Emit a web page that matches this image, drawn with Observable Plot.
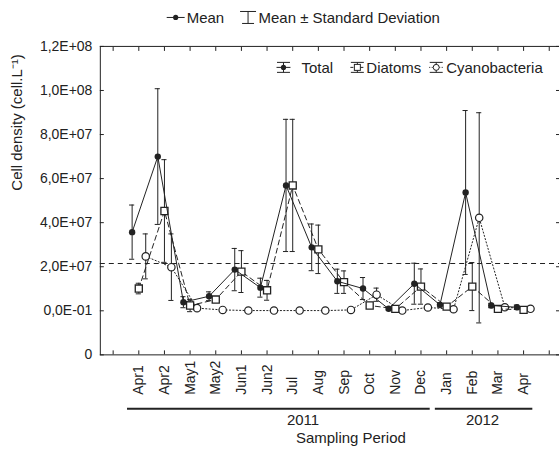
<!DOCTYPE html>
<html><head><meta charset="utf-8">
<script src="https://cdn.jsdelivr.net/npm/d3@7"></script>
<script src="https://cdn.jsdelivr.net/npm/@observablehq/plot@0.6"></script>
<style>
html,body{margin:0;padding:0;overflow:hidden;background:#fff;}
</style></head><body><div id="chart"></div>
<script>
const categories = ["Apr1","Apr2","May1","May2","Jun1","Jun2","Jul","Aug","Sep","Oct","Nov","Dec","Jan","Feb","Mar","Apr"];
const totalMean  = [3.57e7, 7.00e7, 0.39e7, 0.66e7, 1.87e7, 1.05e7, 5.69e7, 2.88e7, 1.34e7, 1.01e7, 0.09e7, 1.23e7, 0.27e7, 5.37e7, 0.24e7, 0.16e7];
const totalSD    = [1.23e7, 3.08e7, 0.25e7, 0.20e7, 0.96e7, 0.43e7, 3.00e7, 1.06e7, 0.55e7, 0.50e7, 0.05e7, 0.93e7, 0.10e7, 3.72e7, 0.10e7, 0.10e7];
const diatomMean = [1.01e7, 4.53e7, 0.24e7, 0.51e7, 1.78e7, 0.93e7, 5.69e7, 2.79e7, 1.30e7, 0.24e7, 0.09e7, 1.10e7, 0.19e7, 1.10e7, 0.09e7, 0.04e7];
const diatomSD   = [0.24e7, 2.33e7, 0.28e7, 0.10e7, 0.95e7, 0.45e7, 3.00e7, 1.10e7, 0.51e7, 0.12e7, 0.05e7, 0.80e7, 0.05e7, 1.09e7, 0.05e7, 0.05e7];
const cyanoMean  = [2.47e7, 1.98e7, 0.12e7, 0.04e7, 0.01e7, 0.01e7, 0.01e7, 0.01e7, 0.04e7, 0.73e7, 0.01e7, 0.15e7, 0.07e7, 4.22e7, 0.16e7, 0.09e7];
const cyanoSD    = [1.02e7, 1.51e7, 0.05e7, 0.02e7, 0.02e7, 0.02e7, 0.02e7, 0.02e7, 0.02e7, 0.30e7, 0.02e7, 0.05e7, 0.03e7, 4.77e7, 0.05e7, 0.03e7];
const yTickValues = [-2e7, 0, 2e7, 4e7, 6e7, 8e7, 1e8, 1.2e8];
const yTickLabels = ["0", "0,0E-01", "2,0E+07", "4,0E+07", "6,0E+07", "8,0E+07", "1,0E+08", "1,2E+08"];
const thresholdValue = 2.15e7;
const years = ["2011", "2012"];
const yearFirst = ["Apr1", "Jan"];
const yearLast = ["Dec", "Apr"];
const seriesNames = ["Total", "Diatoms", "Cyanobacteria"];
const yTitle = "Cell density (cell.L\u207B\u00B9)";
const xTitle = "Sampling Period";
const legendMean = "Mean";
const legendSD = "Mean \u00B1 Standard Deviation";

const ink = "#222";
const font = "'Liberation Sans', Arial, Helvetica, sans-serif";
const offsets = {Total: -0.26, Diatoms: 0, Cyanobacteria: 0.27};
const pos = c => categories.indexOf(c) + 1;
function rows(name, means, sds) {
  return categories.map((c, i) => ({series: name, cat: c, x: pos(c) + offsets[name], mean: means[i], sd: sds[i]}));
}
const total = rows("Total", totalMean, totalSD);
const diatoms = rows("Diatoms", diatomMean, diatomSD);
const cyano = rows("Cyanobacteria", cyanoMean, cyanoSD);
const capW = 0.1;
const yearRows = years.map((y, i) => ({label: y, from: pos(yearFirst[i]), to: pos(yearLast[i])}));
const yBase = yTickValues[0];

function seriesMarks(data, lineStyle, dotOpts) {
  return [
    Plot.ruleX(data, {x: "x", y1: d => d.mean - d.sd, y2: d => d.mean + d.sd, stroke: ink, strokeWidth: 1}),
    Plot.ruleY(data, {y: d => d.mean + d.sd, x1: d => d.x - capW, x2: d => d.x + capW, stroke: ink, strokeWidth: 1}),
    Plot.ruleY(data, {y: d => d.mean - d.sd, x1: d => d.x - capW, x2: d => d.x + capW, stroke: ink, strokeWidth: 1}),
    Plot.line(data, {x: "x", y: "mean", stroke: ink, strokeWidth: 1, ...lineStyle}),
    Plot.dot(data, {x: "x", y: "mean", ...dotOpts})
  ];
}
const xTicks = d3.range(0, categories.length + 2);

const chart = Plot.plot({
  width: 560, height: 453,
  marginLeft: 100, marginRight: 0, marginTop: 46, marginBottom: 98,
  style: {fontFamily: font, color: ink, background: "#fff"},
  x: {domain: [-0.5, 17.4]},
  y: {domain: [-2e7, 1.2e8]},
  marks: [
    Plot.frame({stroke: ink, strokeWidth: 1}),
    Plot.ruleY([thresholdValue], {stroke: ink, strokeWidth: 1.1, strokeDasharray: "5,4"}),
    Plot.axisY({ticks: yTickValues, tickSize: 0, tickPadding: 8, tickFormat: d => yTickLabels[yTickValues.indexOf(d)], fontSize: 14, fill: ink, label: null}),
    Plot.axisY({ticks: yTickValues, tickSize: -4, tickFormat: () => "", label: null, stroke: ink}),
    Plot.axisY({anchor: "right", ticks: yTickValues, tickSize: -4, tickFormat: () => "", label: null, stroke: ink}),
    Plot.axisX({ticks: xTicks, tickSize: -4, tickFormat: () => "", label: null, stroke: ink}),
    Plot.axisX({anchor: "top", ticks: xTicks, tickSize: -4, tickFormat: () => "", label: null, stroke: ink}),
    ...seriesMarks(cyano, {strokeDasharray: "1.2,2.2"}, {symbol: "circle", r: 3.7, fill: "#fff", stroke: ink, strokeWidth: 1.2}),
    ...seriesMarks(diatoms, {strokeDasharray: "5,3.5"}, {symbol: "square", r: 4, fill: "#fff", stroke: ink, strokeWidth: 1.3}),
    ...seriesMarks(total, {}, {symbol: "circle", r: 3.2, fill: ink, stroke: "none"}),
    Plot.text(categories, {x: d => pos(d), y: () => yBase, dy: 40, rotate: -90, textAnchor: "start", text: d => d, fontSize: 14, fill: ink}),
    Plot.ruleY(yearRows, {y: () => yBase, x1: d => d.from - 0.44, x2: d => d.to + 0.36, dy: 54, stroke: ink, strokeWidth: 2}),
    Plot.text(yearRows, {x: d => (d.from + d.to) / 2 + (d.label === "2011" ? 0.9 : -0.1), y: () => yBase, dy: 65, text: "label", fontSize: 15, fill: ink}),
    Plot.text([xTitle], {frameAnchor: "bottom", dx: 21, dy: 88, text: d => d, fontSize: 15, fill: ink}),
    Plot.text([yTitle], {frameAnchor: "left", dx: -83, dy: -10, rotate: -90, text: d => d, fontSize: 15, fill: ink})
  ]
});

// Legends
const svg = d3.select(chart);
const lg = svg.append("g").attr("font-family", font).attr("fill", ink).attr("text-anchor", "start");
// top legend
lg.append("line").attr("x1", 167).attr("x2", 185).attr("y1", 17.5).attr("y2", 17.5).attr("stroke", ink);
lg.append("circle").attr("cx", 176).attr("cy", 17.5).attr("r", 2.6).attr("fill", ink);
lg.append("text").attr("x", 187).attr("y", 17.5).attr("dy", "0.35em").attr("font-size", 15).attr("text-anchor", "start").text(legendMean);
lg.append("path").attr("d", "M240.5,11.5H256.5M248.5,11.5V23.5M242.5,23.5H254.5").attr("stroke", ink).attr("fill", "none");
lg.append("text").attr("x", 259).attr("y", 17.5).attr("dy", "0.35em").attr("font-size", 15).attr("text-anchor", "start").text(legendSD);
// inner legend
const inner = [
  {name: seriesNames[0], cx: 284, tx: 302, dash: null, sym: "dot"},
  {name: seriesNames[1], cx: 358, tx: 367, dash: "3,2", sym: "square"},
  {name: seriesNames[2], cx: 437, tx: 447, dash: "1,1.5", sym: "circle"}
];
const cy = 67.5;
inner.forEach(s => {
  lg.append("path").attr("d", `M${s.cx-6.5},${cy-5}H${s.cx+6.5}M${s.cx-6.5},${cy+5}H${s.cx+6.5}M${s.cx},${cy-5}V${cy+5}`).attr("stroke", ink).attr("fill", "none");
  const l = lg.append("line").attr("x1", s.cx - 7).attr("x2", s.cx + 7).attr("y1", cy).attr("y2", cy).attr("stroke", ink);
  if (s.dash) l.attr("stroke-dasharray", s.dash);
  if (s.sym === "dot") lg.append("circle").attr("cx", s.cx).attr("cy", cy).attr("r", 2.6).attr("fill", ink);
  if (s.sym === "square") lg.append("rect").attr("x", s.cx - 3).attr("y", cy - 3).attr("width", 6).attr("height", 6).attr("fill", "#fff").attr("stroke", ink);
  if (s.sym === "circle") lg.append("circle").attr("cx", s.cx).attr("cy", cy).attr("r", 3).attr("fill", "#fff").attr("stroke", ink);
  lg.append("text").attr("x", s.tx).attr("y", cy).attr("dy", "0.35em").attr("font-size", 15).attr("text-anchor", "start").text(s.name);
});

document.getElementById("chart").appendChild(chart);
</script></body></html>
